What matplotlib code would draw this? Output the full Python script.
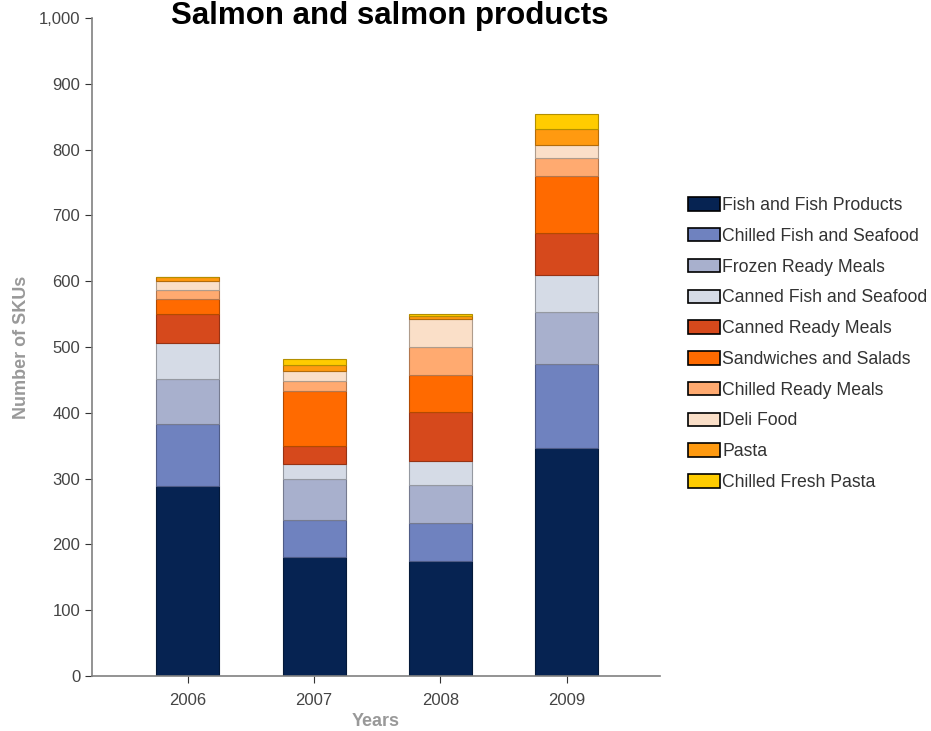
import numpy as np
import matplotlib
matplotlib.use("Agg")
import matplotlib.pyplot as plt
from matplotlib.ticker import FuncFormatter
from matplotlib.colors import to_rgb

plt.rcParams['font.family'] = ['Liberation Sans', 'DejaVu Sans']

# data
years = ['2006', '2007', '2008', '2009']
categories = ['Fish and Fish Products', 'Chilled Fish and Seafood', 'Frozen Ready Meals',
              'Canned Fish and Seafood', 'Canned Ready Meals', 'Sandwiches and Salads',
              'Chilled Ready Meals', 'Deli Food', 'Pasta', 'Chilled Fresh Pasta']
fish = [289, 181, 175, 346]
chilled_fish = [94, 56, 58, 129]
frozen_meals = [69, 62, 58, 79]
canned_fish = [54, 24, 36, 55]
canned_meals = [44, 27, 75, 64]
sandwiches = [23, 84, 55, 87]
chilled_meals = [13, 15, 43, 27]
deli = [14, 14, 42, 20]
pasta = [6, 10, 5, 25]
fresh_pasta = [1, 9, 3, 23]
colors = ['#062352', '#6F82BF', '#A8B0CD', '#D5DBE6', '#D6491C',
          '#FF6A00', '#FFAA70', '#FADFC8', '#FF9A10', '#FFCC00']

series = [fish, chilled_fish, frozen_meals, canned_fish, canned_meals,
          sandwiches, chilled_meals, deli, pasta, fresh_pasta]

fig = plt.figure(figsize=(9.31, 7.31), dpi=100)
ax = fig.add_axes([0.0988, 0.0752, 0.610, 0.900])

x = np.arange(len(years))
bottom = np.zeros(len(years))
for name, vals, col in zip(categories, series, colors):
    edge = tuple(c * 0.7 for c in to_rgb(col))
    ax.bar(x, vals, width=0.5, bottom=bottom, color=col, edgecolor=edge,
           linewidth=0.8, label=name)
    bottom += np.array(vals)

ax.set_xlim(-0.76, 3.74)
ax.set_ylim(0, 1000)
ax.set_yticks(np.arange(0, 1001, 100))
ax.yaxis.set_major_formatter(FuncFormatter(lambda v, p: f'{int(v):,}'))
ax.set_xticks(x)
ax.set_xticklabels(years)

for s in ['top', 'right']:
    ax.spines[s].set_visible(False)
for s in ['left', 'bottom']:
    ax.spines[s].set_color('#808080')
    ax.spines[s].set_linewidth(1.2)
ax.tick_params(colors='#333333', labelcolor='#444444', labelsize=12, length=5)
ax.tick_params(axis='x', pad=7)

ax.set_ylabel('Number of SKUs', color='#999999', fontsize=13, fontweight='bold', labelpad=6)
ax.set_xlabel('Years', color='#999999', fontsize=13, fontweight='bold', labelpad=4)

fig.text(0.419, 1 - 24 / 731, 'Salmon and salmon products', ha='center', va='baseline',
         fontsize=22.5, fontweight='bold')

leg = fig.legend(handles=[
    plt.Rectangle((0, 0), 1, 1, facecolor=c, edgecolor='black', linewidth=1.2) for c in colors],
    labels=categories, loc='upper left', bbox_to_anchor=(0.7315, 0.74),
    frameon=False, fontsize=12.7, handlelength=1.82, handleheight=0.8,
    handletextpad=0.11, labelspacing=0.78, borderaxespad=0)
for t in leg.get_texts():
    t.set_color('#333333')

fig.savefig('out.png', dpi=100)
